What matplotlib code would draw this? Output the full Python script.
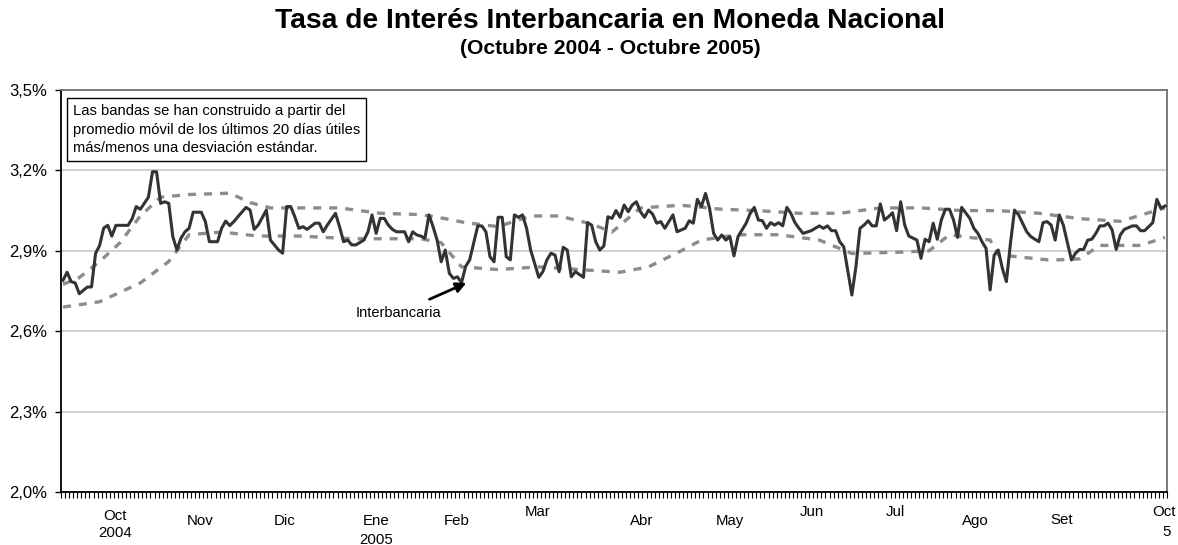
import numpy as np
import matplotlib.pyplot as plt
from matplotlib.ticker import FuncFormatter, FixedLocator

plt.rcParams['font.family'] = ['Liberation Sans', 'DejaVu Sans']

# tasa interbancaria (dia habil -> %)
dia = [0, 1, 2, 3, 4, 6, 7, 8, 9, 10, 11, 12, 13, 14, 16, 17, 18, 19, 21, 22, 23, 24, 25, 26,
       27, 28, 29, 30, 31, 32, 34, 35, 36, 38, 39, 40, 41, 42, 43, 45, 46, 47, 48,
       50, 51, 53, 54, 55, 56, 57, 58, 59, 60, 62, 63, 64, 65, 67, 68, 69, 70, 71, 72, 74, 75,
       76, 77, 78, 79, 80, 81, 82, 84, 85, 86, 87, 88, 89, 90, 91, 92, 93, 94, 95,
       96, 97, 98, 99, 100, 102, 103, 104, 105, 106, 107, 108, 109, 110, 111, 112, 113, 114,
       115, 117, 118, 119, 120, 121, 122, 123, 124, 125, 126, 128, 129, 130, 131, 132, 133,
       134, 135, 136, 137, 138, 139, 140, 141, 142,
       143, 144, 145, 146, 147, 148, 149, 150, 151, 153, 154, 155, 156, 157, 158, 159, 160,
       161, 162, 163, 164, 165, 166, 168, 169, 170, 171, 172, 173, 174, 175, 176, 177, 178,
       179, 180, 181, 182, 184, 185, 186, 187, 188, 189,
       190, 191, 192, 194, 195, 196, 197, 198, 199, 200, 201, 202, 203, 204, 205, 206, 207,
       208, 210, 211, 212, 213, 214, 215, 216, 217, 218, 219, 220, 221, 223, 224, 225, 226,
       227, 228, 229, 230, 231, 232, 233, 234, 235, 237, 238, 240, 241, 242, 243, 244, 245,
       246, 248, 249, 250, 251, 252, 253, 254, 255, 256, 257, 258, 259, 260, 261, 263, 264,
       265, 266, 267, 268, 269, 270, 271]
tasa = [2.79, 2.82, 2.785, 2.78, 2.74, 2.765, 2.765, 2.89, 2.92, 2.985, 2.995, 2.955, 2.995, 2.995,
        2.995, 3.02, 3.065, 3.055, 3.10, 3.195, 3.195, 3.077, 3.083, 3.077,
        2.953, 2.903, 2.947, 2.971, 2.984, 3.044, 3.044, 3.009, 2.934, 2.934, 2.984, 3.011,
        2.994, 3.009, 3.027, 3.062, 3.052, 2.98, 2.996,
        3.052, 2.94, 2.903, 2.891, 3.065, 3.065, 3.027, 2.984, 2.99, 2.98, 3.003, 3.003, 2.971,
        2.996, 3.04, 2.99, 2.934, 2.94, 2.922, 2.922, 2.94, 2.971,
        3.034, 2.965, 3.021, 3.021, 2.996, 2.98, 2.971, 2.971, 2.934, 2.971, 2.959, 2.955,
        2.947, 3.034, 2.99, 2.94, 2.859, 2.903, 2.816,
        2.797, 2.803, 2.781, 2.841, 2.866, 2.993, 2.993, 2.971, 2.878, 2.859, 3.025, 3.025,
        2.878, 2.866, 3.034, 3.025, 3.034, 2.984,
        2.903, 2.801, 2.822, 2.866, 2.891, 2.884, 2.822, 2.913, 2.903, 2.803, 2.822, 2.801,
        3.005, 2.996, 2.934, 2.903, 2.918,
        3.027, 3.021, 3.05, 3.025, 3.071, 3.046, 3.071, 3.083, 3.046,
        3.025, 3.052, 3.037, 3.003, 3.009, 2.984, 3.009, 3.034, 2.971, 2.984, 3.012, 3.003,
        3.092, 3.065, 3.114, 3.059, 2.965,
        2.94, 2.959, 2.94, 2.953, 2.881, 2.953, 3.003, 3.04, 3.062, 3.015, 3.012, 2.984,
        3.005, 2.996, 3.005, 2.993, 3.062,
        3.04, 3.005, 2.984, 2.965, 2.975, 2.984, 2.993, 2.984, 2.993, 2.975,
        2.975, 2.934, 2.915, 2.735, 2.841, 2.984, 2.996, 3.012, 2.993, 2.993, 3.075, 3.015,
        3.027, 3.042, 2.975, 3.083, 2.996,
        2.955, 2.94, 2.872, 2.943, 2.934, 3.003, 2.943, 3.015, 3.055, 3.055, 3.015, 2.95,
        3.062, 3.021, 2.984, 2.965, 2.934,
        2.909, 2.754, 2.884, 2.903, 2.835, 2.785, 2.928, 3.052, 3.034, 2.971, 2.953, 2.934,
        3.005, 3.009, 2.996, 2.94, 3.034,
        2.996, 2.866, 2.891, 2.905, 2.905, 2.94, 2.943, 2.965, 2.993, 2.993, 3.003, 2.978,
        2.905, 2.959, 2.98, 2.993, 2.993,
        2.975, 2.975, 2.99, 3.005, 3.092, 3.059, 3.067]

# banda superior
dia_sup = [0, 4, 9, 14, 19, 24, 31, 41, 46, 51, 68, 78, 88, 94, 99, 107, 115, 122, 130, 135,
           142, 152, 162, 171, 181, 191, 201, 211, 221, 230, 240, 250, 260, 271]
banda_sup = [2.775, 2.80, 2.86, 2.93, 3.03, 3.10, 3.11, 3.115, 3.08, 3.06, 3.06, 3.04, 3.035,
             3.02, 3.005, 2.99, 3.03, 3.03, 3.0, 2.97, 3.06, 3.07, 3.055, 3.05, 3.04, 3.04,
             3.06, 3.06, 3.05, 3.05, 3.04, 3.02, 3.01, 3.06]

# banda inferior
dia_inf = [0, 9, 19, 26, 31, 39, 48, 58, 71, 88, 93, 98, 107, 117, 127, 137, 144, 152, 157,
           166, 176, 186, 194, 206, 213, 218, 228, 230, 243, 250, 255, 265, 271]
banda_inf = [2.69, 2.71, 2.78, 2.86, 2.96, 2.97, 2.955, 2.955, 2.945, 2.945, 2.93, 2.84, 2.83,
             2.84, 2.83, 2.82, 2.84, 2.90, 2.94, 2.96, 2.96, 2.94, 2.89, 2.895, 2.90, 2.96,
             2.94, 2.885, 2.865, 2.87, 2.92, 2.92, 2.95]

n_dias = 272

meses = ['Oct', 'Nov', 'Dic', 'Ene', 'Feb', 'Mar', 'Abr', 'May', 'Jun', 'Jul', 'Ago', 'Set', 'Oct']
pos_mes = [12.8, 33.7, 54.6, 77, 96.7, 116.8, 142.2, 163.9, 184.2, 204.6, 224.3, 245.7, 270.8]
baja_mes = [24, 29, 29, 29, 29, 20, 29, 29, 20, 20, 29, 28, 20]

fig = plt.figure(figsize=(11.78, 5.45), dpi=100)
ax = fig.add_axes([61/1178, 1-492/545, (1167-61)/1178, (492-90)/545])

ax.plot(dia_sup, banda_sup, color='#8c8c8c', lw=2.4, ls=(0, (2.4, 2.4)), zorder=2)
ax.plot(dia_inf, banda_inf, color='#8c8c8c', lw=2.4, ls=(0, (2.4, 2.4)), zorder=2)
ax.plot(dia, tasa, color='#333333', lw=2.2, zorder=3)

ax.set_xlim(-0.5, n_dias - 0.5)
ax.set_ylim(2.0, 3.5)
ax.set_yticks([2.0, 2.3, 2.6, 2.9, 3.2, 3.5])
ax.yaxis.set_major_formatter(FuncFormatter(lambda v, p: f'{v:.1f}%'.replace('.', ',')))
ax.tick_params(axis='y', labelsize=12, length=4, width=1, pad=6)
ax.grid(axis='y', color='#c8c8c8', lw=1.2)
ax.set_axisbelow(True)

ax.xaxis.set_major_locator(FixedLocator(np.arange(-0.5, n_dias, 1)))
ax.set_xticklabels([])
ax.tick_params(axis='x', length=4, width=0.8, direction='out')

for s in ['top', 'right']:
    ax.spines[s].set_color('#707070')
    ax.spines[s].set_linewidth(1.3)
for s in ['left', 'bottom']:
    ax.spines[s].set_color('black')
    ax.spines[s].set_linewidth(1.3)

for m, p, b in zip(meses, pos_mes, baja_mes):
    ax.annotate(m, xy=(p, 0), xycoords=('data', 'axes fraction'), xytext=(0, -b),
                textcoords='offset pixels', ha='center', va='center', fontsize=10.8)
ax.annotate('2004', xy=(pos_mes[0], 0), xycoords=('data', 'axes fraction'), xytext=(0, -41),
            textcoords='offset pixels', ha='center', va='center', fontsize=10.8)
ax.annotate('2005', xy=(pos_mes[3], 0), xycoords=('data', 'axes fraction'), xytext=(0, -48),
            textcoords='offset pixels', ha='center', va='center', fontsize=10.8)
ax.annotate('5', xy=(pos_mes[-1], 0), xycoords=('data', 'axes fraction'), xytext=(2, -40),
            textcoords='offset pixels', ha='center', va='center', fontsize=10.8)

ax.text(0.0105, 0.965,
        'Las bandas se han construido a partir del\n'
        'promedio móvil de los últimos 20 días útiles\n'
        'más/menos una desviación estándar.',
        transform=ax.transAxes, ha='left', va='top', fontsize=10.6, linespacing=1.42,
        bbox=dict(boxstyle='square,pad=0.4', fc='white', ec='black', lw=1))

ax.annotate('Interbancaria', xy=(99.2, 2.78), xytext=(82.5, 2.668),
            ha='center', va='center', fontsize=10.5,
            arrowprops=dict(arrowstyle='-|>', color='black', lw=2, mutation_scale=15,
                            shrinkA=7, shrinkB=0))

fig.text(610/1178, 1-21/545, 'Tasa de Interés Interbancaria en Moneda Nacional',
         ha='center', va='center', fontsize=20.3, fontweight='bold')
fig.text(610/1178, 1-48/545, '(Octubre 2004 - Octubre 2005)',
         ha='center', va='center', fontsize=15.2, fontweight='bold')

fig.savefig('out.png', dpi=100)
